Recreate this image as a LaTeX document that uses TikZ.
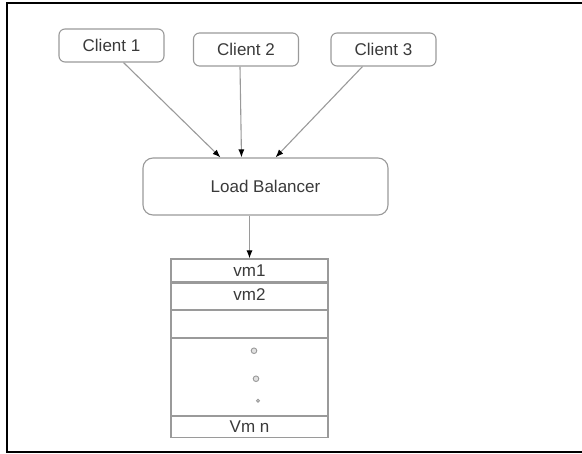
\documentclass[tikz,border=0pt]{standalone}
\usepackage{fontspec}
\setmainfont{Liberation Sans}
\usetikzlibrary{arrows.meta,positioning,calc}
\definecolor{edge}{HTML}{9A9A9A}
\definecolor{ink}{HTML}{3A3A3A}
\tikzset{
  box/.style={draw=edge, line width=1.1pt, rounded corners=6pt, align=center, fill=white,
    text=ink, font=\fontsize{17}{18}\selectfont, inner sep=0pt},
  client/.style={box, minimum width=105pt, minimum height=33pt},
  balancer/.style={box, rounded corners=10pt, minimum width=245pt, minimum height=57pt},
  slot/.style={box, rounded corners=0pt, minimum width=157pt},
  arrow/.style={draw=edge, line width=1.1pt, -{Latex[length=8pt,width=6pt,black]}},
  dot/.style={draw=edge, fill=edge!30, line width=0.9pt},
  frame/.style={draw=black, line width=2.6pt},
}

\begin{document}
\begin{tikzpicture}[x=1pt, y=-1pt]
  \useasboundingbox (0,0) rectangle (582,454);
  % outer frame, open on the right
  \draw[frame] (584,3) -- (7,3) -- (7,452) -- (584,452);

  % Nodes
  \node[client] (c1) at (111.5,45.5) {Client 1};
  \node[client] (c2) at (246,49.5) {Client 2};
  \node[client] (c3) at (383.5,49.5) {Client 3};
  \node[balancer] (lb) at (265.5,186.5) {Load Balancer};

  % VM stack
  \node[slot, minimum height=23pt] (vm1) at (249.5,270.5) {vm1};
  \node[slot, minimum height=26pt, below=0pt of vm1, text depth=4pt] (vm2) {vm2};
  \node[slot, minimum height=27pt, below=0pt of vm2] (blank) {};
  \node[slot, minimum height=77pt, below=0pt of blank] (more) {};
  \node[slot, minimum height=21pt, below=0pt of more] (vmn) {Vm n};

  \filldraw[dot] ($(more.north)+(4.5,13)$) circle (2.8pt);
  \filldraw[dot] ($(more.north)+(6.5,41)$) circle (2.8pt);
  \filldraw[dot] ($(more.north)+(8.5,63)$) circle (1.6pt);

  % Arrows
  \draw[arrow] ($(c1.south)+(12,0)$) -- ($(lb.north)+(-45,0)$);
  \draw[arrow] ($(c2.south)+(-6,0)$) -- ($(lb.north)+(-24,0)$);
  \draw[arrow] ($(c3.south)+(-21,0)$) -- ($(lb.north)+(10,0)$);
  \draw[arrow] (lb.south -| vm1.north) -- (vm1.north);
\end{tikzpicture}
\end{document}
